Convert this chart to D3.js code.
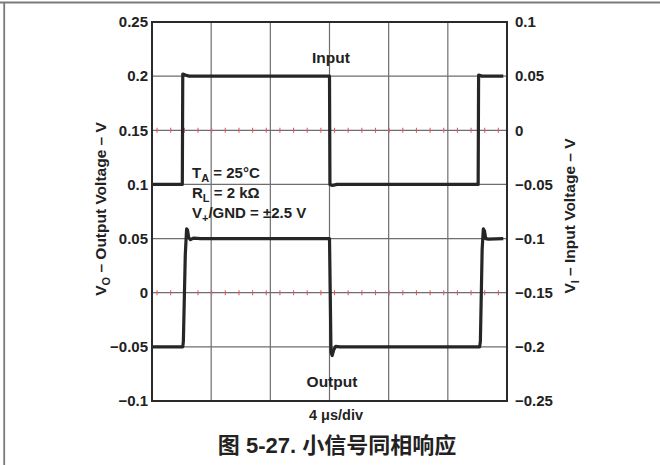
<!DOCTYPE html>
<html>
<head>
<meta charset="utf-8">
<script src="https://cdn.jsdelivr.net/npm/d3@7"></script>
<style>
  html, body { margin: 0; padding: 0; background: #fff; }
  svg { display: block; }
  text { font-family: "Liberation Sans", Arial, "Noto Sans CJK SC", sans-serif; font-weight: bold; fill: #222; }
</style>
</head>
<body>
<svg id="chart" width="660" height="465"></svg>
<script>
// Time axis: 6 divisions of 4 µs
const timeDivisions = [0, 4, 8, 12, 16, 20, 24];

// Left axis (output voltage) ticks and labels
const outputTickValues = [-0.1, -0.05, 0, 0.05, 0.1, 0.15, 0.2, 0.25];
const outputTickLabels = ["\u22120.1", "\u22120.05", "0", "0.05", "0.1", "0.15", "0.2", "0.25"];

// Right axis (input voltage) ticks and labels
const inputTickValues = [-0.25, -0.2, -0.15, -0.1, -0.05, 0, 0.05, 0.1];
const inputTickLabels = ["\u22120.25", "\u22120.2", "\u22120.15", "\u22120.1", "\u22120.05", "0", "0.05", "0.1"];

// Input step (µs, V on the right axis)
const inputTime  = [0,     2.05,  2.08,  2.25,  2.5,  12.0, 12.03, 12.2,   12.5,  22.05, 22.08, 22.3, 23.75];
const inputVolts = [-0.05, -0.05, 0.052, 0.051, 0.05, 0.05, -0.05, -0.051, -0.05, -0.05, 0.051, 0.05, 0.05];

// Output response (µs, V on the left axis)
const outputTime  = [0,     2.08,  2.12,   2.25, 2.34,  2.4,   2.48,  2.6,   2.8,   3.3,  12.0, 12.05, 12.1,  12.18,  12.28,  12.42, 12.7,  22.15, 22.2,   22.32, 22.4,  22.48, 22.56, 22.75, 23.75];
const outputVolts = [-0.05, -0.05, -0.045, 0.035, 0.059, 0.058, 0.051, 0.049, 0.0505, 0.05, 0.05, 0.0,   -0.055, -0.058, -0.053, -0.0495, -0.05, -0.05, -0.045, 0.04,  0.059, 0.057, 0.05,  0.0495, 0.05];

// Marker ticks along the two reference levels
const markerCount = 26;
const markerOffset = 0.34;

const svg = d3.select("#chart");

// Page frame lines
svg.append("line").attr("x1", 0).attr("x2", 660).attr("y1", 2.5).attr("y2", 2.5)
  .attr("stroke", "#7a7a7a").attr("stroke-width", 1.8);
svg.append("line").attr("x1", 4.2).attr("x2", 4.2).attr("y1", 2).attr("y2", 465)
  .attr("stroke", "#7a7a7a").attr("stroke-width", 1.8);

const plot = { left: 152, right: 507, top: 22, bottom: 401 };

const x = d3.scaleLinear().domain([0, 24]).range([plot.left, plot.right]);
const yOut = d3.scaleLinear().domain([-0.1, 0.25]).range([plot.bottom, plot.top]);
const yIn = d3.scaleLinear().domain([-0.25, 0.1]).range([plot.bottom, plot.top]);

// Grid
const grid = svg.append("g").attr("stroke", "#6e6e6e").attr("stroke-width", 1.2);
grid.selectAll("line.v").data(timeDivisions.slice(1, -1)).join("line")
  .attr("x1", d => x(d)).attr("x2", d => x(d))
  .attr("y1", plot.top).attr("y2", plot.bottom);
grid.selectAll("line.h").data(outputTickValues.slice(1, -1)).join("line")
  .attr("x1", plot.left).attr("x2", plot.right)
  .attr("y1", d => yOut(d)).attr("y2", d => yOut(d));

// Red markers on the 0.15 V and 0 V levels
const markerTimes = d3.range(markerCount).map(i => markerOffset + i * 24 / markerCount);
[0.15, 0].forEach(level => {
  svg.append("g").selectAll("line").data(markerTimes).join("line")
    .attr("x1", d => x(d)).attr("x2", d => x(d))
    .attr("y1", yOut(level) - 2.5).attr("y2", yOut(level) + 2.5)
    .attr("stroke", "#e05a66").attr("stroke-width", 1.1);
});

// Traces
const traceLine = (ys) => d3.line().x(d => x(d[0])).y(d => ys(d[1]));
svg.append("path")
  .datum(inputTime.map((t, i) => [t, inputVolts[i]]))
  .attr("d", traceLine(yIn))
  .attr("fill", "none").attr("stroke", "#262626").attr("stroke-width", 3.2)
  .attr("stroke-linejoin", "round");
svg.append("path")
  .datum(outputTime.map((t, i) => [t, outputVolts[i]]))
  .attr("d", traceLine(yOut))
  .attr("fill", "none").attr("stroke", "#262626").attr("stroke-width", 3.2)
  .attr("stroke-linejoin", "round");

// Plot frame
svg.append("rect")
  .attr("x", plot.left).attr("y", plot.top)
  .attr("width", plot.right - plot.left).attr("height", plot.bottom - plot.top)
  .attr("fill", "none").attr("stroke", "#2a2a2a").attr("stroke-width", 2);

// Axes
const leftAxis = d3.axisLeft(yOut).tickValues(outputTickValues).tickSize(0).tickPadding(4)
  .tickFormat((d, i) => outputTickLabels[i]);
const rightAxis = d3.axisRight(yIn).tickValues(inputTickValues).tickSize(0).tickPadding(8)
  .tickFormat((d, i) => inputTickLabels[i]);

const gl = svg.append("g").attr("transform", `translate(${plot.left},0)`).call(leftAxis);
const gr = svg.append("g").attr("transform", `translate(${plot.right},0)`).call(rightAxis);
[gl, gr].forEach(g => {
  g.select(".domain").remove();
  g.selectAll("text").attr("font-size", 15).attr("font-family", null).attr("fill", "#222");
  g.attr("font-family", null).attr("font-size", null);
});

// Axis titles
svg.append("text")
  .attr("transform", "translate(106,209) rotate(-90)")
  .attr("text-anchor", "middle").attr("font-size", 15.5)
  .call(t => {
    t.append("tspan").text("V");
    t.append("tspan").attr("font-size", 11).attr("dy", 4).text("O");
    t.append("tspan").attr("dy", -4).text(" \u2013 Output Voltage \u2013 V");
  });
svg.append("text")
  .attr("transform", "translate(575,216) rotate(-90)")
  .attr("text-anchor", "middle").attr("font-size", 15.5)
  .call(t => {
    t.append("tspan").text("V");
    t.append("tspan").attr("font-size", 11).attr("dy", 4).text("I");
    t.append("tspan").attr("dy", -4).text(" \u2013 Input Voltage \u2013 V");
  });

// Trace labels
svg.append("text").attr("x", 331).attr("y", 63).attr("text-anchor", "middle")
  .attr("font-size", 15.5).text("Input");
svg.append("text").attr("x", 332).attr("y", 387).attr("text-anchor", "middle")
  .attr("font-size", 15.5).text("Output");
svg.append("text").attr("x", 336).attr("y", 420).attr("text-anchor", "middle")
  .attr("font-size", 14.5).text("4 \u03bcs/div");

// Conditions
const cond = svg.append("g").attr("font-size", 15);
cond.append("text").attr("x", 192).attr("y", 178).call(t => {
  t.append("tspan").text("T");
  t.append("tspan").attr("font-size", 11).attr("dy", 4).text("A");
  t.append("tspan").attr("dy", -4).text(" = 25\u00b0C");
});
cond.append("text").attr("x", 192).attr("y", 198).call(t => {
  t.append("tspan").text("R");
  t.append("tspan").attr("font-size", 11).attr("dy", 4).text("L");
  t.append("tspan").attr("dy", -4).text(" = 2 k\u03a9");
});
cond.append("text").attr("x", 192).attr("y", 218).call(t => {
  t.append("tspan").text("V");
  t.append("tspan").attr("font-size", 11).attr("dy", 4).text("+");
  t.append("tspan").attr("dy", -4).text("/GND = \u00b12.5 V");
});

// Caption
svg.append("text").attr("x", 337).attr("y", 453).attr("text-anchor", "middle")
  .attr("font-size", 22)
  .attr("font-family", "'Liberation Sans', Arial, 'Noto Sans CJK SC', sans-serif")
  .text("\u56fe 5-27. \u5c0f\u4fe1\u53f7\u540c\u76f8\u54cd\u5e94");
</script>
</body>
</html>
